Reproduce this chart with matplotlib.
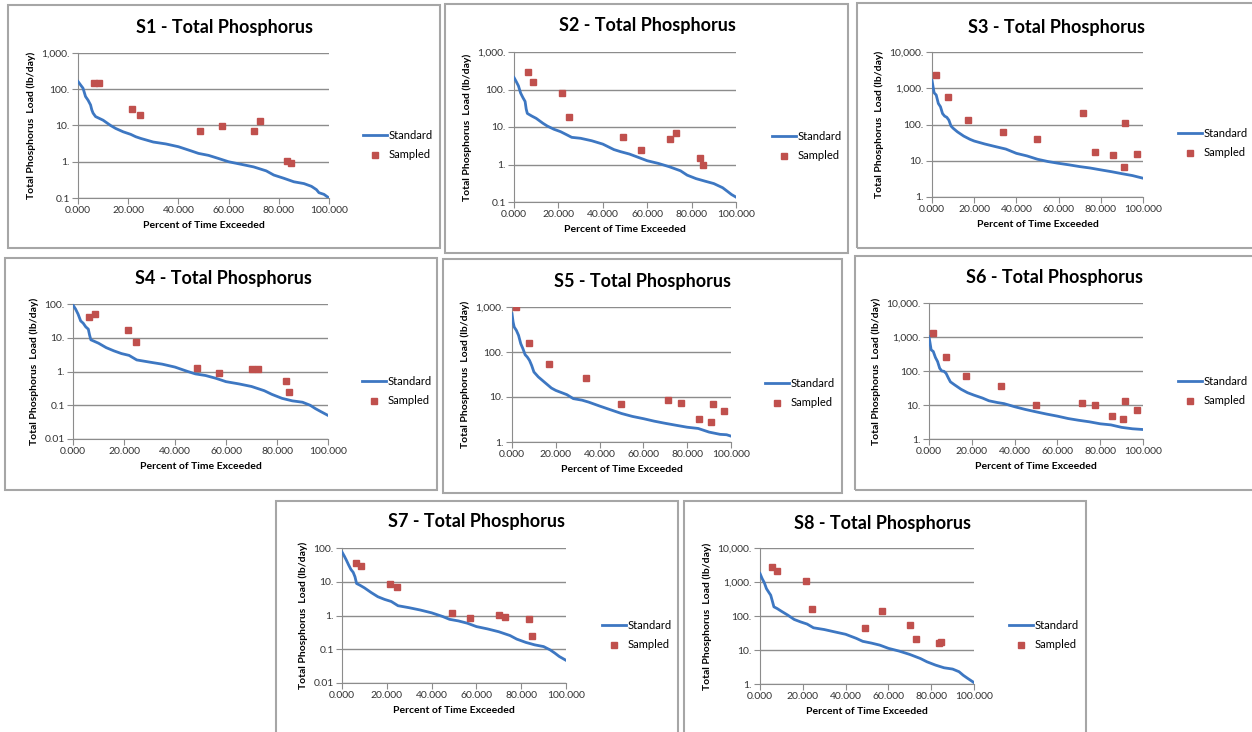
import matplotlib
matplotlib.use("Agg")
import matplotlib.pyplot as plt
from matplotlib.patches import Rectangle
from matplotlib.ticker import FuncFormatter, LogLocator, NullLocator, MultipleLocator

plt.rcParams['font.family'] = ['Lato', 'DejaVu Sans']

W, H = 1252, 732

# ---- data ----
# S1
s1_x = [0, 1, 2, 3, 4, 5, 5.5, 6, 7, 10, 13, 15, 18, 21, 23, 25, 30, 35, 40, 45, 48, 52, 56, 60,
        65, 70, 75, 78, 82, 86, 90, 93, 95, 96, 98, 100]
s1_y = [164, 132, 107, 63, 50, 37, 27, 22, 17.6, 14, 10, 8.3, 6.7, 5.7, 4.9, 4.4, 3.5, 3.1, 2.6, 2.0,
        1.7, 1.5, 1.23, 1.0, 0.85, 0.72, 0.56, 0.43, 0.35, 0.28, 0.25, 0.21, 0.17, 0.14, 0.126, 0.1]
s1_sx = [6.5, 8.5, 21.7, 24.6, 48.8, 57.2, 70.1, 72.6, 83.3, 84.7]
s1_sy = [147, 150, 28, 19.5, 7.0, 9.7, 7.0, 13.5, 1.05, 0.93]

# S2
s2_x = [0, 1, 2, 3, 4, 5, 5.5, 6, 8, 10, 13, 15, 18, 21, 24, 26, 30, 35, 40, 45, 48, 52, 56, 60,
        65, 70, 75, 78, 82, 86, 90, 94, 96, 98, 100]
s2_y = [209, 163, 125, 80, 61, 48, 30, 23, 19.6, 17, 12.6, 10.6, 8.7, 7.5, 6.1, 5.3, 5.0, 4.3, 3.5,
        2.5, 2.2, 1.9, 1.55, 1.26, 1.07, 0.87, 0.68, 0.52, 0.42, 0.36, 0.31, 0.24, 0.195, 0.158, 0.135]
s2_sx = [6.5, 8.6, 21.6, 24.6, 48.9, 57.4, 70.1, 72.8, 83.6, 85.0]
s2_sy = [296, 157, 83, 19, 5.3, 2.4, 4.9, 7.1, 1.45, 1.0]

# S3
s3_x = [0, 0.5, 1, 2, 3, 4, 5, 6, 7, 8, 9, 10, 12, 15, 18, 20, 25, 30, 35, 40, 45, 50, 55, 60,
        65, 70, 75, 80, 85, 90, 95, 100]
s3_y = [1650, 1100, 750, 650, 380, 310, 200, 170, 158, 132, 91, 79, 63, 48, 39, 35, 29, 24.6, 21,
        16, 13.6, 11, 9.5, 8.5, 7.7, 6.9, 6.3, 5.6, 5.0, 4.4, 3.9, 3.3]
s3_sx = [1.7, 7.7, 17.1, 33.6, 49.8, 71.4, 77.2, 85.6, 90.8, 91.5, 97.0]
s3_sy = [2340, 590, 130, 64, 40, 209, 17.8, 14.8, 6.8, 112, 15.8]

# S4
s4_x = [0, 1, 2, 3, 4, 5, 6, 6.5, 7, 10, 13, 16, 19, 22, 25, 30, 35, 40, 45, 48, 52, 56, 60,
        65, 70, 75, 78, 82, 86, 90, 93, 95, 97, 100]
s4_y = [93, 71, 50, 31.6, 27, 21, 18, 12, 8.7, 6.9, 5.1, 4.1, 3.4, 3.0, 2.2, 1.9, 1.65, 1.35, 1.0,
        0.85, 0.76, 0.63, 0.5, 0.43, 0.36, 0.27, 0.21, 0.16, 0.135, 0.123, 0.1, 0.08, 0.066, 0.05]
s4_sx = [6.3, 8.5, 21.6, 24.6, 48.8, 57.1, 70.0, 72.6, 83.4, 84.7]
s4_sy = [42, 52, 17, 7.4, 1.3, 0.93, 1.22, 1.17, 0.51, 0.245]

# S5
s5_x = [0, 0.5, 1, 2, 3, 4, 5, 6, 7, 8, 9, 10, 12, 15, 18, 20, 25, 28, 32, 35, 40, 45, 50, 55,
        60, 65, 70, 75, 80, 85, 90, 95, 98, 100]
s5_y = [710, 465, 360, 302, 234, 153, 118, 87, 77, 65, 50, 36, 28, 21, 15.8, 14, 11.3, 9.2, 8.5,
        7.7, 6.3, 5.2, 4.3, 3.7, 3.3, 2.9, 2.6, 2.35, 2.13, 2.0, 1.66, 1.48, 1.45, 1.35]
s5_sx = [2.0, 7.8, 17.0, 33.6, 49.8, 71.4, 77.2, 85.4, 90.7, 91.6, 97.0]
s5_sy = [1000, 162, 54, 26, 7.1, 8.5, 7.4, 3.2, 2.8, 6.9, 4.9]

# S6
s6_x = [0, 0.5, 1, 2, 3, 4, 5, 6, 7, 8, 9, 10, 12, 15, 18, 21, 25, 28, 32, 35, 40, 45, 50, 55,
        60, 65, 70, 75, 80, 85, 90, 95, 100]
s6_y = [1035, 660, 420, 375, 250, 190, 120, 100, 98, 85, 63, 48, 39, 29, 23, 19.5, 16, 13.3, 11.8,
        11, 8.9, 7.4, 6.3, 5.4, 4.7, 4.0, 3.55, 3.2, 2.8, 2.6, 2.2, 2.0, 1.9]
s6_sx = [2.0, 8.0, 17.3, 33.5, 49.9, 71.6, 77.4, 85.6, 90.8, 91.6, 97.0]
s6_sy = [1350, 265, 73, 36, 10, 11.8, 10.3, 4.7, 3.8, 13.2, 6.9]

# S7
s7_x = [0, 1, 2, 3, 4, 5, 5.8, 6.5, 8, 10, 13, 16, 19, 22, 25, 30, 35, 40, 45, 48, 52, 56, 60,
        65, 70, 75, 78, 82, 86, 90, 93, 95, 97, 100]
s7_y = [76, 58, 43, 31, 23, 19, 14, 8.9, 7.9, 6.6, 4.8, 3.6, 3.0, 2.6, 1.95, 1.7, 1.45, 1.2, 0.93,
        0.77, 0.69, 0.59, 0.47, 0.40, 0.33, 0.255, 0.20, 0.16, 0.135, 0.12, 0.095, 0.077, 0.061, 0.047]
s7_sx = [6.3, 8.5, 21.6, 24.6, 48.9, 57.2, 70.2, 72.7, 83.5, 84.8]
s7_sy = [35, 29.5, 8.5, 6.8, 1.2, 0.87, 1.07, 0.89, 0.78, 0.24]

# S8
s8_x = [0, 1, 2, 3, 4, 5, 5.8, 6.5, 8, 10, 13, 16, 19, 22, 25, 30, 35, 40, 45, 48, 52, 56, 60,
        65, 70, 75, 78, 82, 86, 90, 93, 95, 97, 100]
s8_y = [1780, 1260, 960, 640, 510, 410, 270, 186, 166, 138, 106, 79, 67, 58, 45, 40, 34, 29, 22,
        18, 16, 13.9, 11.2, 9.3, 7.4, 5.6, 4.5, 3.6, 3.0, 2.75, 2.3, 1.8, 1.47, 1.1]
s8_sx = [5.8, 8.1, 21.3, 24.3, 48.9, 57.0, 70.1, 72.7, 83.6, 84.6]
s8_sy = [2840, 2070, 1100, 166, 45, 138, 56, 21, 16.6, 17.4]

titles = ["S1 - Total Phosphorus", "S2 - Total Phosphorus", "S3 - Total Phosphorus",
          "S4 - Total Phosphorus", "S5 - Total Phosphorus", "S6 - Total Phosphorus",
          "S7 - Total Phosphorus", "S8 - Total Phosphorus"]
ylims = [(0.1, 1000), (0.1, 1000), (1, 10000), (0.01, 100),
         (1, 1000), (1, 10000), (0.01, 100), (1, 10000)]
series = [(s1_x, s1_y, s1_sx, s1_sy), (s2_x, s2_y, s2_sx, s2_sy), (s3_x, s3_y, s3_sx, s3_sy),
          (s4_x, s4_y, s4_sx, s4_sy), (s5_x, s5_y, s5_sx, s5_sy), (s6_x, s6_y, s6_sx, s6_sy),
          (s7_x, s7_y, s7_sx, s7_sy), (s8_x, s8_y, s8_sx, s8_sy)]

# ---- layout in pixels: box, plot area, title centre, legend anchor ----
boxes = [(8, 5, 440, 248), (445, 4, 848, 253), (857, 3, 1256, 248),
         (5, 258, 437, 490), (443, 259, 842, 493), (855, 256, 1256, 490),
         (276, 501, 678, 740), (684, 501, 1086, 740)]
plots = [(78, 53, 329, 198), (514, 52, 736, 202), (932, 52, 1143, 197),
         (73, 304, 328, 439), (512, 307, 731, 442), (929, 303, 1143, 439),
         (342, 548, 566, 683), (760, 548, 974, 684)]
title_pos = [(225, 28), (647, 26), (1056, 27), (223, 279), (642, 282), (1054, 278),
             (477, 522), (883, 523)]
legend_pos = [(363, 145), (772, 146), (1178, 143), (362, 391), (765, 393), (1178, 391),
              (602, 635), (1009, 635)]

GRID = '#8c8c8c'
BLUE = '#3d77c2'
RED = '#c0504d'


def yfmt(v, pos):
    if v >= 1:
        return f"{v:,.0f}."
    return f"{v:g}"


fig = plt.figure(figsize=(W / 100, H / 100), dpi=100)

for (bx0, by0, bx1, by1) in boxes:
    fig.patches.append(Rectangle((bx0 / W, 1 - by1 / H), (bx1 - bx0) / W, (by1 - by0) / H,
                                 transform=fig.transFigure, fill=False,
                                 edgecolor='#a6a6a6', lw=1.5))

for i in range(8):
    x0, y0, x1, y1 = plots[i]
    ax = fig.add_axes([x0 / W, 1 - y1 / H, (x1 - x0) / W, (y1 - y0) / H])
    sx, sy, px, py = series[i]
    ax.plot(sx, sy, color=BLUE, lw=2.0, label='Standard', zorder=3)
    ax.plot(px, py, ls='none', marker='s', ms=4.5, color=RED, label='Sampled', zorder=4)
    ax.set_yscale('log')
    ax.set_ylim(*ylims[i])
    ax.set_xlim(0, 100)
    ax.yaxis.set_major_locator(LogLocator(base=10, numticks=10))
    ax.yaxis.set_minor_locator(NullLocator())
    ax.yaxis.set_major_formatter(FuncFormatter(yfmt))
    ax.xaxis.set_major_locator(MultipleLocator(20))
    ax.xaxis.set_major_formatter(FuncFormatter(lambda v, p: f"{v:.3f}"))
    ax.grid(axis='y', color=GRID, lw=1)
    ax.set_axisbelow(True)
    for s in ['top', 'right']:
        ax.spines[s].set_visible(False)
    for s in ['left', 'bottom']:
        ax.spines[s].set_color(GRID)
    ax.tick_params(axis='both', length=4, color=GRID, labelsize=7.5, labelcolor='#333333', pad=2)
    ax.set_xlabel('Percent of Time Exceeded', fontsize=7.5, fontweight='bold', labelpad=4)
    ax.set_ylabel('Total Phosphorus  Load (lb/day)', fontsize=7.5, fontweight='bold', labelpad=4)
    tx, ty = title_pos[i]
    fig.text(tx / W, 1 - ty / H, titles[i], ha='center', va='center',
             fontsize=13, fontweight='bold')
    lx, ly = legend_pos[i]
    ax.legend(loc='center left', bbox_to_anchor=(lx / W, 1 - ly / H),
              bbox_transform=fig.transFigure, frameon=False, fontsize=8,
              handlelength=2.2, handletextpad=0.1, labelspacing=0.8,
              borderpad=0, borderaxespad=0)

fig.savefig('out.png', dpi=100)
